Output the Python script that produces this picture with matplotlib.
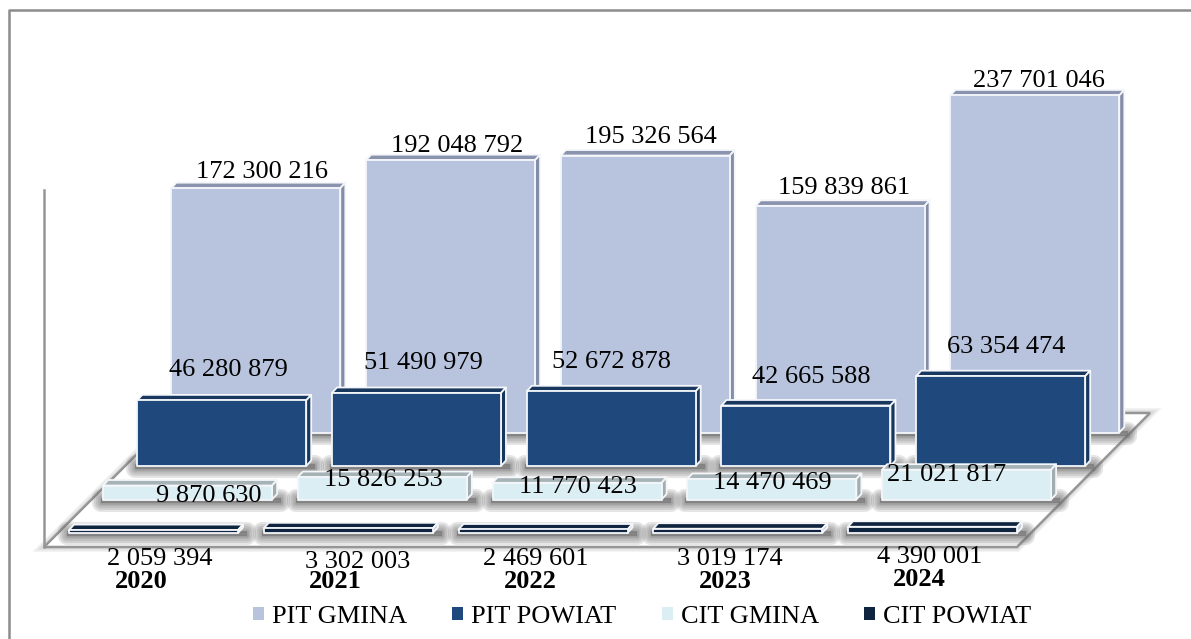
import matplotlib
matplotlib.use("Agg")
import matplotlib.pyplot as plt
from matplotlib.patches import Polygon, Rectangle
from matplotlib.transforms import Affine2D

years = ["2020", "2021", "2022", "2023", "2024"]
pit_gmina = [172300216, 192048792, 195326564, 159839861, 237701046]
pit_powiat = [46280879, 51490979, 52672878, 42665588, 63354474]
cit_gmina = [9870630, 15826253, 11770423, 14470469, 21021817]
cit_powiat = [2059394, 3302003, 2469601, 3019174, 4390001]
series_names = ["PIT GMINA", "PIT POWIAT", "CIT GMINA", "CIT POWIAT"]

W, H = 1191, 639
PX = 1e6 / 1.418  # zl per pixel
UNIT = 194.75  # pixels per category
FLOOR_Y = 547

plt.rcParams['font.family'] = ['Liberation Serif', 'DejaVu Serif']
fig = plt.figure(figsize=(W / 100, H / 100), dpi=100)
ax = fig.add_axes([0, 0, 1, 1])
ax.set_xlim(-69 / UNIT, (W - 69) / UNIT)
ax.set_ylim(-(H - FLOOR_Y) * PX, FLOOR_Y * PX)
ax.axis("off")

# helper for layout that is not data: top-left pixel coordinates
pix = Affine2D().scale(1, -1).translate(0, H)


def bar3d(cat, row, value, front, top, side, z):
    # row 0 is the front row, 3 the back one
    x0 = cat + 34.1 * row / UNIT
    x1 = x0 + 169 / UNIT
    y0 = (14 + 33.5 * row) * PX
    y1 = y0 + value
    dx, dy = 5 / UNIT, 5.5 * PX

    # soft shadow on the floor
    sh_x = [x0 - 2 / UNIT, x1 + 9 / UNIT, x1 + 9 / UNIT, x0 - 2 / UNIT]
    sh_y = [y0 - 3 * PX, y0 - 3 * PX, y0 + 2 * PX, y0 + 2 * PX]
    for lw in [13, 10, 7, 4, 2]:
        ax.add_patch(Polygon(list(zip(sh_x, sh_y)), closed=True, fc="#707070", ec="#707070",
                             lw=lw, alpha=0.18, zorder=z, joinstyle="round"))

    edge = dict(ec="#F4F6FA", lw=1.3, zorder=z + 1, joinstyle="round")
    ax.add_patch(Polygon([(x0, y1), (x1, y1), (x1 + dx, y1 + dy), (x0 + dx, y1 + dy)], closed=True, fc=top, **edge))
    ax.add_patch(Polygon([(x1, y0), (x1 + dx, y0 + dy), (x1 + dx, y1 + dy), (x1, y1)], closed=True, fc=side, **edge))
    ax.add_patch(Rectangle((x0, y0), x1 - x0, value, fc=front, **edge))


# outer frame, only top and left are visible
ax.plot([W, 9, 9], [10, 10, H], transform=pix, color="#8C8C8C", lw=1.8, zorder=1)

# floor and left wall line
floor = [(44, 547), (1017, 547), (1150, 413), (178, 413)]
for lw in [7, 5, 3]:
    ax.add_patch(Polygon(floor, closed=True, transform=pix, fc="none", ec="#A0A0A0", lw=lw, alpha=0.14, zorder=1))
ax.add_patch(Polygon(floor, closed=True, transform=pix, fc="white", ec="#969696", lw=1.8, zorder=2))
ax.plot([44, 44], [547, 190], transform=pix, color="#969696", lw=1.8, zorder=2)

rows = [
    (3, pit_gmina, "#B8C4DE", "#8A93AE", "#848DA8"),
    (2, pit_powiat, "#1F497D", "#17375E", "#17375E"),
    (1, cit_gmina, "#DBEEF4", "#A5B3B7", "#A0AEB2"),
    (0, cit_powiat, "#0F243E", "#0F243E", "#C8D0DA"),
]
for n, (row, vals, front, top, side) in enumerate(rows):
    for i, v in enumerate(vals):
        bar3d(i, row, v, front, top, side, 10 + 3 * n)

# value labels, hand placed like in the original chart
label_pos = [
    [(262, 172), (457, 146), (651, 137), (844, 188), (1039, 81)],
    [(228, 370), (423, 363), (611, 362), (811, 377), (1006, 347)],
    [(209, 496), (383, 480), (578, 487), (772, 483), (947, 475)],
    [(160, 559), (358, 562), (536, 559), (730, 559), (930, 557)],
]
for (row, vals, *_), positions in zip(rows, label_pos):
    for v, (x, y) in zip(vals, positions):
        ax.text(x, y, f"{v:,}".replace(",", " "), transform=pix, fontsize=19, ha="center", va="center", zorder=40)

year_pos = [(141, 582), (335, 582), (530, 582), (725, 582), (919, 580)]
for y_lab, (x, y) in zip(years, year_pos):
    ax.text(x, y, y_lab, transform=pix, fontsize=19, fontweight="bold", ha="center", va="center", zorder=41)

# legend
handles = [Rectangle((0, 0), 1, 1, fc=r[2], ec="none") for r in rows]
fig.legend(handles, series_names, ncols=4, frameon=False, fontsize=19, loc="center",
           bbox_to_anchor=(642 / W, 1 - 617 / H), handlelength=0.42, handleheight=0.42,
           handletextpad=0.3, columnspacing=1.72, borderpad=0)

fig.savefig("out.png", dpi=100)
